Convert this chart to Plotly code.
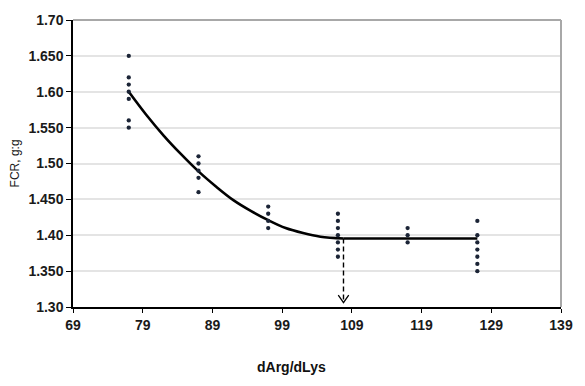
import plotly.graph_objects as go

# Observed data (dArg/dLys ratio vs FCR)
obs_x = [77]*7 + [87]*5 + [97]*4 + [107]*7 + [117]*3 + [127]*7
obs_y = [1.65, 1.62, 1.61, 1.60, 1.59, 1.56, 1.55,
         1.51, 1.50, 1.49, 1.48, 1.46,
         1.44, 1.43, 1.42, 1.41,
         1.43, 1.42, 1.41, 1.40, 1.39, 1.38, 1.37,
         1.41, 1.40, 1.39,
         1.42, 1.40, 1.39, 1.38, 1.37, 1.36, 1.35]

# Fitted quadratic-plateau curve
curve_x = [77, 79.5, 82, 84.5, 87, 89.5, 92, 94.5, 97, 99.5, 102, 104.5, 107.8]
curve_y = [1.600, 1.568, 1.539, 1.513, 1.489, 1.468, 1.449, 1.434, 1.421, 1.410, 1.403, 1.398, 1.3955]
plateau_x = [107.8, 127]
plateau_y = [1.3955, 1.3955]

# Breakpoint arrow
break_x = 107.8
arrow_tip_y = 1.306

# Axis ticks
x_ticks = [69, 79, 89, 99, 109, 119, 129, 139]
y_tickvals = [1.30, 1.35, 1.40, 1.45, 1.50, 1.55, 1.60, 1.65, 1.70]
y_ticktext = ["1.30", "1.350", "1.40", "1.450", "1.50", "1.550", "1.60", "1.650", "1.70"]

fig = go.Figure()

fig.add_trace(go.Scatter(x=curve_x, y=curve_y, mode="lines",
                         line=dict(color="black", width=2.6, shape="spline"),
                         hoverinfo="skip"))
fig.add_trace(go.Scatter(x=plateau_x, y=plateau_y, mode="lines",
                         line=dict(color="black", width=2.6), hoverinfo="skip"))

# dashed arrow line
fig.add_trace(go.Scatter(x=[break_x, break_x], y=[plateau_y[0], arrow_tip_y], mode="lines",
                         line=dict(color="black", width=1.4, dash="5px,3px"), hoverinfo="skip"))
# open V arrow head
fig.add_trace(go.Scatter(x=[break_x - 0.75, break_x, break_x + 0.75],
                         y=[arrow_tip_y + 0.0105, arrow_tip_y, arrow_tip_y + 0.0105],
                         mode="lines", line=dict(color="black", width=1.3), hoverinfo="skip"))

fig.add_trace(go.Scatter(x=obs_x, y=obs_y, mode="markers",
                         marker=dict(color="#1b2436", size=4.3)))

tickfont = dict(family="Liberation Sans", size=14, color="#1a1a1a", weight="bold")

fig.update_layout(
    width=585, height=386,
    margin=dict(l=73, r=24, t=16, b=79),
    paper_bgcolor="white", plot_bgcolor="white",
    showlegend=False,
    xaxis=dict(range=[69, 139], tickvals=x_ticks, ticktext=[str(v) for v in x_ticks],
               showgrid=False, zeroline=False, showline=True, linecolor="black", linewidth=1.5,
               ticks="outside", ticklen=4, tickcolor="black", tickwidth=1.2,
               tickfont=tickfont),
    yaxis=dict(range=[1.30, 1.70], tickvals=y_tickvals, ticktext=y_ticktext,
               showgrid=True, gridcolor="#e4e4e4", gridwidth=1.5, zeroline=False,
               showline=True, linecolor="black", linewidth=1.5,
               ticks="outside", ticklen=5, tickcolor="black", tickwidth=1.2,
               tickfont=tickfont),
    shapes=[
        dict(type="line", xref="paper", yref="paper", x0=0, x1=1, y0=1, y1=1,
             line=dict(color="#a8a8a8", width=2)),
        dict(type="line", xref="paper", yref="paper", x0=1, x1=1, y0=0, y1=1,
             line=dict(color="#a8a8a8", width=2)),
    ],
    annotations=[
        dict(text="FCR, g:g", xref="paper", yref="paper", x=-0.119, y=0.5,
             xanchor="center", yanchor="middle", textangle=-90, showarrow=False,
             font=dict(family="Liberation Sans", size=12, color="#1a1a1a")),
        dict(text="dArg/dLys", xref="paper", yref="paper", x=(291 - 73) / 488, y=-(368 - 307) / 291,
             xanchor="center", yanchor="middle", showarrow=False,
             font=dict(family="Liberation Sans", size=14, color="#111111", weight="bold")),
    ],
)

fig.write_html("out.html", config={"displayModeBar": False},
               post_script="document.body.style.margin='0';document.body.style.padding='0';")
